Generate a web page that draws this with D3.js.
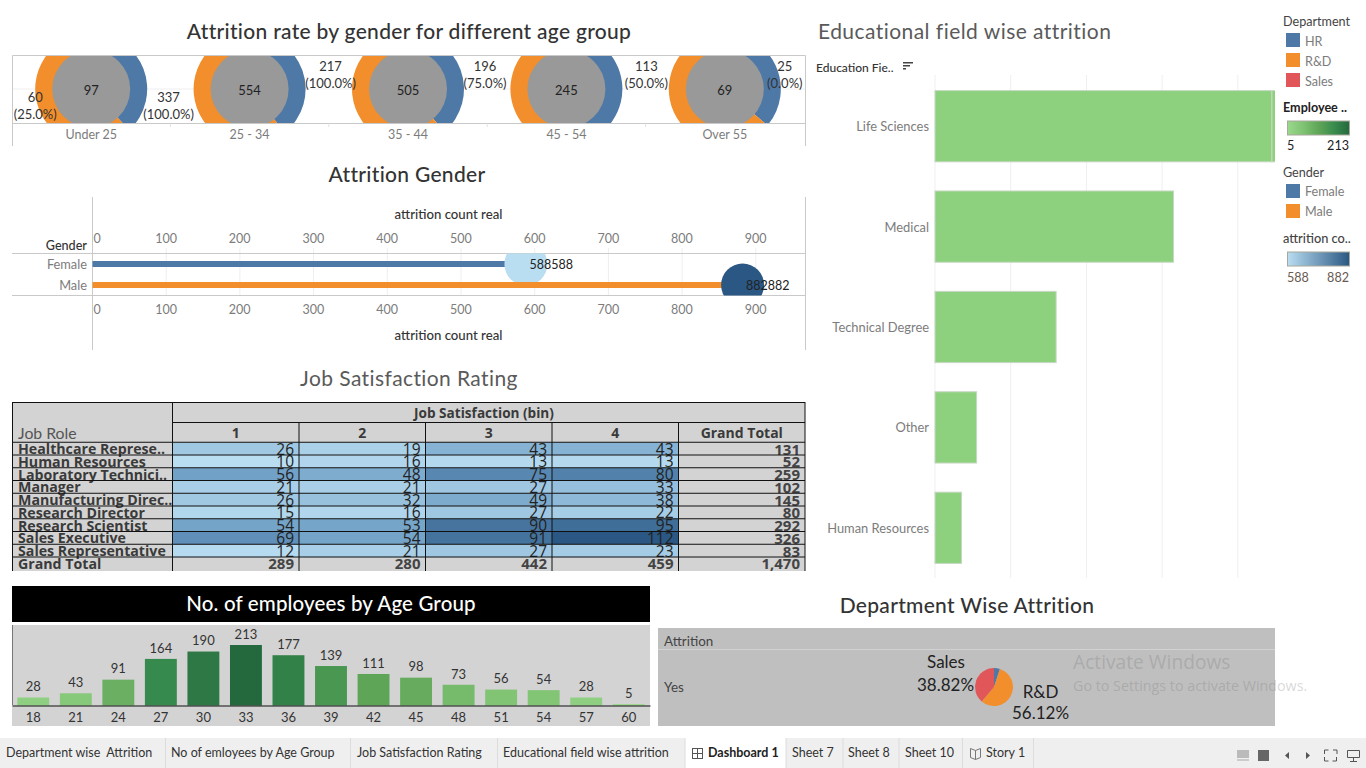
<!DOCTYPE html>
<html>
<head>
<meta charset="utf-8">
<script src="https://cdnjs.cloudflare.com/ajax/libs/d3/7.8.5/d3.min.js"></script>
<style>
html, body { margin: 0; padding: 0; background: #fff; overflow: hidden; }
svg { display: block; font-family: Lato, "Open Sans", sans-serif; }
text { white-space: pre; }
</style>
</head>
<body>
<svg id="board" width="1366" height="768"></svg>
<script>
// age group donuts
var ageGroups = ["Under 25", "25 - 34", "35 - 44", "45 - 54", "Over 55"];
var ageFemale = [37, 217, 196, 113, 25];
var ageMale = [60, 337, 309, 132, 44];
var ageTotals = [97, 554, 505, 245, 69];
var donutLabels = [["60", "(25.0%)"], ["337", "(100.0%)"], ["217", "(100.0%)"], ["196", "(75.0%)"], ["113", "(50.0%)"], ["25", "(0.0%)"]];
var donutLabelGroup = [0, 1, 1, 2, 3, 4];
var donutLabelDx = [-56, -81, 81, 77, 80, 60];
var donutLabelDy = [8, 8, -23, -23, -23, -23];

// attrition gender
var genders = ["Female", "Male"];
var genderCounts = [588, 882];
var genderTicks = [0, 100, 200, 300, 400, 500, 600, 700, 800, 900];

// job satisfaction table
var jobRoles = ["Healthcare Represe..", "Human Resources", "Laboratory Technici..", "Manager", "Manufacturing Direc..", "Research Director", "Research Scientist", "Sales Executive", "Sales Representative"];
var satBins = ["1", "2", "3", "4"];
var sat1 = [26, 10, 56, 21, 26, 15, 54, 69, 12];
var sat2 = [19, 16, 48, 21, 32, 16, 53, 54, 21];
var sat3 = [43, 13, 75, 27, 49, 27, 90, 91, 27];
var sat4 = [43, 13, 80, 33, 38, 22, 95, 112, 23];
var roleTotals = ["131", "52", "259", "102", "145", "80", "292", "326", "83"];
var binTotals = ["289", "280", "442", "459", "1,470"];

// employees by age
var ages = [18, 21, 24, 27, 30, 33, 36, 39, 42, 45, 48, 51, 54, 57, 60];
var employees = [28, 43, 91, 164, 190, 213, 177, 139, 111, 98, 73, 56, 54, 28, 5];

// department pie
var departments = ["HR", "R&D", "Sales"];
var deptShare = [5.06, 56.12, 38.82];

// education field
var eduFields = ["Life Sciences", "Medical", "Technical Degree", "Other", "Human Resources"];
var eduFirst = [89, 63, 32, 11, 7];
var eduSecond = [1, 0, 0, 0, 0];
var eduTicks = [0, 20, 40, 60, 80];

// tab strip
var tabNames = ["Department wise  Attrition", "No of emloyees by Age Group", "Job Satisfaction Rating", "Educational field wise attrition", "Dashboard 1", "Sheet 7", "Sheet 8", "Sheet 10", "Story 1"];
var tabEdges = [0, 165.5, 350.5, 497.5, 685, 786, 843, 899, 962.5, 1033.5];
var tabTextX = [6, 171, 357, 503, 708, 792, 848, 905, 986];

var BLUE = "#4e79a7", ORANGE = "#f28e2b", RED = "#e15759", BORDER = "#c9c9c9", GRID = "#efefef";
var AXIS_TEXT = "#7c7c7c", DARK = "#333";

var svg = d3.select("#board");
var defs = svg.append("defs");

function clip(id, x, y, w, h) {
  defs.append("clipPath").attr("id", id).append("rect")
    .attr("x", x).attr("y", y).attr("width", w).attr("height", h);
}
function label(g, x, y, str, size, fill, anchor, weight) {
  // big Lato text sits a touch low on a central baseline
  var nudge = size < 15 ? 0 : -0.7;
  return g.append("text").attr("x", x).attr("y", y + nudge).text(str)
    .attr("font-size", size).attr("fill", fill || DARK)
    .attr("text-anchor", anchor || "start")
    .attr("font-weight", weight || 400)
    .attr("dominant-baseline", "central");
}
function line(g, x1, y1, x2, y2, col, w) {
  return g.append("line").attr("x1", x1).attr("y1", y1).attr("x2", x2).attr("y2", y2)
    .attr("stroke", col).attr("stroke-width", w || 1);
}

/* ---------- donuts ---------- */
var top1 = svg.append("g");
label(top1, 409, 31.5, "Attrition rate by gender for different age group", 21, "#333", "middle", 500).attr("letter-spacing", 0.3);
clip("donutClip", 12.5, 55.5, 793, 68);
var xAge = d3.scaleBand().domain(ageGroups).range([12, 804]);
line(top1, 12.5, 89, 805.5, 89, GRID);
var pieGender = d3.pie().sort(null);
var arcGender = d3.arc().innerRadius(0).outerRadius(56);
var donuts = top1.append("g").attr("clip-path", "url(#donutClip)");
ageGroups.forEach(function(name, i) {
  var cx = xAge(name) + xAge.bandwidth() / 2;
  var g = donuts.append("g").attr("transform", "translate(" + cx + ",89)");
  g.selectAll("path").data(pieGender([ageFemale[i], ageMale[i]])).enter().append("path")
    .attr("d", arcGender).attr("fill", function(d, j) { return j == 0 ? BLUE : ORANGE; });
  g.append("circle").attr("r", 39).attr("fill", "#999");
  label(top1, cx, 89.5, String(ageTotals[i]), 13, "#222", "middle");
  label(top1, cx, 134.5, name, 12.5, AXIS_TEXT, "middle");
});
donutLabels.forEach(function(lines, i) {
  var name = ageGroups[donutLabelGroup[i]];
  var cx = xAge(name) + xAge.bandwidth() / 2 + donutLabelDx[i];
  var cy = 89 + donutLabelDy[i];
  label(top1, cx, cy, lines[0], 13, "#333", "middle");
  label(top1, cx, cy + 17, lines[1], 13, "#333", "middle");
});
line(top1, 12.5, 55.5, 805.5, 55.5, BORDER);
line(top1, 12.5, 123.5, 805.5, 123.5, BORDER);
line(top1, 12.5, 55.5, 12.5, 146, BORDER);
line(top1, 805.5, 55.5, 805.5, 146, BORDER);
d3.range(1, 5).forEach(function(i) {
  var x = xAge(ageGroups[i]);
  line(top1, x, 123.5, x, 127, "#e4e4e4");
});

/* ---------- attrition gender ---------- */
var gen = svg.append("g");
label(gen, 407, 174.5, "Attrition Gender", 21, "#333", "middle", 500).attr("letter-spacing", 0.3);
var xGen = d3.scaleLinear().domain([0, 966]).range([92.5, 804.5]);
var yGen = d3.scaleBand().domain(genders).range([253.5, 295.5]);
var colGen = d3.scaleLinear().domain([588, 882]).range(["#b9ddf1", "#2a5783"]);
clip("genClip", 93, 253.5, 712, 42);

genderTicks.slice(1).forEach(function(t) {
  line(gen, xGen(t), 248, xGen(t), 295, GRID);
});
[[d3.axisTop, 243], [d3.axisBottom, 305]].forEach(function(a) {
  var ax = gen.append("g").attr("transform", "translate(0," + a[1] + ")")
    .call(a[0](xGen).tickValues(genderTicks).tickSize(0).tickPadding(0));
  ax.select(".domain").remove();
  ax.selectAll("text").attr("font-size", 12.5).attr("fill", AXIS_TEXT).attr("font-family", "Lato").attr("dx", -0.7);
  ax.select(".tick text").attr("dx", 4);
});
line(gen, 92.5, 197, 92.5, 350, BORDER);
line(gen, 805.5, 197, 805.5, 350, BORDER);
line(gen, 12, 253.5, 805.5, 253.5, BORDER);
line(gen, 12, 295.5, 805.5, 295.5, BORDER);
label(gen, 448.5, 214, "attrition count real", 13.2, DARK, "middle", 500);
label(gen, 448.5, 335, "attrition count real", 13.2, DARK, "middle", 500);
label(gen, 87, 245, "Gender", 12.6, DARK, "end", 500);

var genMarks = gen.append("g");
genders.forEach(function(name, i) {
  var cy = yGen(name) + yGen.bandwidth() / 2;
  label(gen, 87, cy, name, 12.8, AXIS_TEXT, "end");
  genMarks.append("rect").attr("x", xGen(0)).attr("y", cy - 3)
    .attr("width", xGen(genderCounts[i]) - xGen(0)).attr("height", 6)
    .attr("fill", i == 0 ? BLUE : ORANGE);
  genMarks.append("circle").attr("clip-path", "url(#genClip)")
    .attr("cx", xGen(genderCounts[i])).attr("cy", cy).attr("r", 21.5)
    .attr("fill", colGen(genderCounts[i]));
  label(gen, xGen(genderCounts[i]) + 3.5, cy, "" + genderCounts[i] + genderCounts[i], 12.5, "#222");
});

/* ---------- job satisfaction ---------- */
var tbl = svg.append("g");
label(tbl, 409, 378, "Job Satisfaction Rating", 21, "#5a5a5a", "middle").attr("letter-spacing", 0.4);
var colKeys = satBins.concat(["Grand Total"]);
var rowKeys = jobRoles.concat(["Grand Total"]);
var xCol = d3.scaleBand().domain(colKeys).range([172.5, 805]);
var yRow = d3.scaleBand().domain(rowKeys).range([442.5, 570]);
var colSat = d3.scaleLinear().domain([10, 61, 112]).range(["#b9ddf1", "#6a9bc3", "#2a5783"]);
var satCols = [sat1, sat2, sat3, sat4];

tbl.append("rect").attr("x", 12).attr("y", 402).attr("width", 793).attr("height", 169).attr("fill", "#d3d3d3");
satCols.forEach(function(vals, c) {
  tbl.selectAll(null).data(vals).enter().append("rect")
    .attr("x", xCol(satBins[c]))
    .attr("y", function(d, i) { return yRow(jobRoles[i]); })
    .attr("width", xCol.bandwidth())
    .attr("height", yRow.bandwidth())
    .attr("fill", function(d) { return colSat(d); });
});
function cellRight(key) { return xCol(key) + xCol.bandwidth() - 5; }
var tableFont = "'Open Sans', Lato, sans-serif";
jobRoles.forEach(function(role, r) {
  var cy = yRow(role) + yRow.bandwidth() / 2 + 0.5;
  label(tbl, 18, cy - 0.7, role, 14.2, "#3a3a3a", "start", 700).attr("font-family", tableFont);
  satCols.forEach(function(vals, c) {
    label(tbl, cellRight(satBins[c]), cy, String(vals[r]), 15.5, "#222", "end").attr("font-family", tableFont);
  });
  label(tbl, cellRight("Grand Total"), cy, roleTotals[r], 15, "#444", "end", 700).attr("font-family", tableFont);
});
var gy = yRow("Grand Total") + yRow.bandwidth() / 2 + 0.5;
label(tbl, 18, gy - 0.7, "Grand Total", 14.2, "#3a3a3a", "start", 700).attr("font-family", tableFont);
colKeys.forEach(function(key, c) {
  label(tbl, cellRight(key), gy, binTotals[c], 15, "#444", "end", 700).attr("font-family", tableFont);
});
// grid lines sit on top of the numbers, same as the dashboard
line(tbl, 12, 402.5, 805, 402.5, "#111");
line(tbl, 172.5, 422.5, 805, 422.5, "#111");
rowKeys.forEach(function(key) {
  line(tbl, 12, yRow(key) - 0.25, 805, yRow(key) - 0.25, "#111", key == jobRoles[0] ? 0 : 1);
});
line(tbl, 12.5, 402, 12.5, 571, "#111");
line(tbl, 172.5, 402, 172.5, 571, "#111");
line(tbl, 805, 402, 805, 571, "#111");
colKeys.forEach(function(key, i) {
  if (i > 0) line(tbl, xCol(key), 422, xCol(key), 571, "#111");
  label(tbl, xCol(key) + xCol.bandwidth() / 2, 432.3, key, 14, "#3a3a3a", "middle", 700).attr("font-family", tableFont);
});
label(tbl, 18, 433.5, "Job Role", 15.8, "#555");
label(tbl, 484, 412.3, "Job Satisfaction (bin)", 13.6, "#3a3a3a", "middle", 700).attr("font-family", tableFont);

/* ---------- employees by age ---------- */
var emp = svg.append("g");
emp.append("rect").attr("x", 12).attr("y", 586).attr("width", 638).attr("height", 36).attr("fill", "#000");
label(emp, 331, 603.5, "No. of employees by Age Group", 20.5, "#fff", "middle", 500).attr("letter-spacing", 0.15);
emp.append("rect").attr("x", 12).attr("y", 625).attr("width", 638).attr("height", 101).attr("fill", "#d3d3d3");
var xEmp = d3.scaleBand().domain(ages).range([12, 650]).paddingInner(0.25).paddingOuter(0.125);
var yEmp = d3.scaleLinear().domain([0, 213]).range([705.5, 645]);
var colEmp = d3.scaleLinear().domain([5, 56, 111, 164, 213])
  .range(["#9bd88c", "#80c474", "#5fa557", "#378a4d", "#24693d"]);
emp.selectAll("rect.bar").data(employees).enter().append("rect").attr("class", "bar")
  .attr("x", function(d, i) { return xEmp(ages[i]); })
  .attr("y", function(d) { return yEmp(d); })
  .attr("width", xEmp.bandwidth())
  .attr("height", function(d) { return yEmp(0) - yEmp(d); })
  .attr("fill", function(d) { return colEmp(d); });
employees.forEach(function(d, i) {
  label(emp, xEmp(ages[i]) + xEmp.bandwidth() / 2, yEmp(d) - 11.2, String(d), 13, "#333", "middle");
});
var empAxis = emp.append("g").attr("transform", "translate(0,705.5)")
  .call(d3.axisBottom(xEmp).tickSize(0).tickPadding(7));
empAxis.select(".domain").attr("stroke", "#111");
empAxis.selectAll("text").attr("font-size", 13).attr("fill", "#333").attr("font-family", "Lato");
line(emp, 12.5, 625, 12.5, 705, "#777");

/* ---------- department pie ---------- */
var dep = svg.append("g");
label(dep, 967, 605.5, "Department Wise Attrition", 21, "#333", "middle", 500).attr("letter-spacing", 0.3);
dep.append("rect").attr("x", 658).attr("y", 628).attr("width", 617).attr("height", 98).attr("fill", "#bfbfbf");
line(dep, 658, 649.5, 1275, 649.5, "#d2d2d2");
label(dep, 664, 641, "Attrition", 13.4, "#444");
label(dep, 664, 687, "Yes", 13.4, "#444");
var pieDept = d3.pie().sort(null);
var arcDept = d3.arc().innerRadius(0).outerRadius(19);
var colDept = d3.scaleOrdinal().domain(departments).range([BLUE, ORANGE, RED]);
dep.append("g").attr("transform", "translate(994,687)")
  .selectAll("path").data(pieDept(deptShare)).enter().append("path")
  .attr("d", arcDept).attr("fill", function(d, i) { return colDept(departments[i]); });
label(dep, 946, 662.5, departments[2], 17, "#222", "middle");
label(dep, 945.5, 685, deptShare[2].toFixed(2) + "%", 17, "#222", "middle");
label(dep, 1040.5, 692.5, departments[1], 17, "#222", "middle");
label(dep, 1040.5, 713.5, deptShare[1].toFixed(2) + "%", 17, "#222", "middle");

/* ---------- education ---------- */
var edu = svg.append("g");
label(edu, 818, 31.5, "Educational field wise attrition", 21, "#5a5a5a").attr("letter-spacing", 0.45);
label(edu, 816, 67, "Education Fie..", 12, DARK, "start", 500);
// sort icon
[10, 7, 3].forEach(function(w, i) {
  edu.append("rect").attr("x", 903).attr("y", 62 + i * 3).attr("width", w).attr("height", 1.5).attr("fill", "#444");
});
var xEdu = d3.scaleLinear().domain([0, 90]).range([935, 1275.7]);
var yEdu = d3.scaleBand().domain(eduFields).range([76, 578]).paddingInner(0.29).paddingOuter(0.145);
clip("eduClip", 934, 75, 341, 503);
eduTicks.forEach(function(t) { line(edu, xEdu(t), 75, xEdu(t), 578, GRID); });
var eduBars = edu.append("g").attr("clip-path", "url(#eduClip)");
eduFields.forEach(function(f, i) {
  var y = yEdu(f), h = yEdu.bandwidth();
  eduBars.append("rect").attr("x", xEdu(0)).attr("y", y)
    .attr("width", xEdu(eduFirst[i]) - xEdu(0)).attr("height", h)
    .attr("fill", "#8dd17e").attr("stroke", "#c8d8c4").attr("stroke-width", 1);
  if (eduSecond[i] > 0) {
    eduBars.append("rect").attr("x", xEdu(eduFirst[i])).attr("y", y)
      .attr("width", xEdu(eduSecond[i]) - xEdu(0)).attr("height", h)
      .attr("fill", "#8dd17e").attr("stroke", "#c8d8c4").attr("stroke-width", 1);
  }
  label(edu, 929, y + h / 2, f, 12.9, AXIS_TEXT, "end");
});

/* ---------- legends ---------- */
var leg = svg.append("g");
label(leg, 1283, 21, "Department", 12.6, "#444");
departments.forEach(function(d, i) {
  leg.append("rect").attr("x", 1286).attr("y", 33 + i * 20).attr("width", 14).attr("height", 14).attr("fill", colDept(d));
  label(leg, 1305, 41 + i * 20, d, 12.6, AXIS_TEXT);
});
label(leg, 1283, 107, "Employee ..", 12.6, "#222", "start", 700);
function ramp(id, y, scale, domain) {
  var lg = defs.append("linearGradient").attr("id", id);
  d3.range(0, 1.01, 0.25).forEach(function(t) {
    lg.append("stop").attr("offset", t).attr("stop-color", scale(domain[0] + t * (domain[1] - domain[0])));
  });
  leg.append("rect").attr("x", 1287.5).attr("y", y).attr("width", 62).attr("height", 14)
    .attr("fill", "url(#" + id + ")").attr("stroke", "#a8a89c");
}
ramp("rampEmp", 121, colEmp, [5, 213]);
label(leg, 1287, 145, "5", 12.6, "#222");
label(leg, 1349, 145, "213", 12.6, "#222", "end");
label(leg, 1283, 172, "Gender", 12.6, "#444");
genders.forEach(function(d, i) {
  leg.append("rect").attr("x", 1286).attr("y", 184 + i * 20).attr("width", 14).attr("height", 14).attr("fill", i == 0 ? BLUE : ORANGE);
  label(leg, 1305, 191.5 + i * 20, d, 12.6, AXIS_TEXT);
});
label(leg, 1283, 238, "attrition co..", 12.8, "#444", "start", 500);
ramp("rampGen", 252, colGen, [588, 882]);
label(leg, 1287, 277, String(genderCounts[0]), 12.6, "#6a5a50");
label(leg, 1349, 277, String(genderCounts[1]), 12.6, "#6a5a50", "end");

/* ---------- tab strip ---------- */
var tabs = svg.append("g");
tabs.append("rect").attr("x", 0).attr("y", 738).attr("width", 1366).attr("height", 30).attr("fill", "#efefef");
tabs.append("rect").attr("x", tabEdges[4]).attr("y", 738).attr("width", tabEdges[5] - tabEdges[4]).attr("height", 30).attr("fill", "#fff");
tabEdges.slice(1).forEach(function(x) { line(tabs, x, 738, x, 768, "#dcdcdc"); });
tabNames.forEach(function(t, i) {
  label(tabs, tabTextX[i], 752.4, t, 12.5, i == 4 ? "#222" : "#333", "start", i == 4 ? 700 : 400);
});
// dashboard icon
tabs.append("rect").attr("x", 692.5).attr("y", 748.5).attr("width", 10).attr("height", 10).attr("fill", "none").attr("stroke", "#555");
line(tabs, 697.5, 748.5, 697.5, 758.5, "#555");
line(tabs, 692.5, 753.5, 702.5, 753.5, "#555");
// story icon
tabs.append("path").attr("d", "M970.5 748.5 l5 2 l5 -2 v9 l-5 2 l-5 -2 z M975.5 750.5 v9").attr("fill", "none").attr("stroke", "#777");
// right hand controls
tabs.append("rect").attr("x", 1237).attr("y", 750).attr("width", 12).attr("height", 8).attr("fill", "#bbb");
tabs.append("rect").attr("x", 1237).attr("y", 759).attr("width", 12).attr("height", 2).attr("fill", "#ccc");
tabs.append("rect").attr("x", 1258).attr("y", 750).attr("width", 11).attr("height", 11).attr("fill", "#666");
tabs.append("path").attr("d", "M1289 752 l-4 3.5 l4 3.5 z M1306 752 l4 3.5 l-4 3.5 z").attr("fill", "#555");
tabs.append("path").attr("d", "M1324.5 754 v-4 h4 M1333 750 h4 v4 M1336.500 757 v4 h-4 M1328.500 761 h-4 v-4").attr("fill", "none").attr("stroke", "#555");
tabs.append("path").attr("d", "M1347.500 750.500 h12 v7 h-12 z M1353.500 757.500 v4 M1350 761.500 h7").attr("fill", "none").attr("stroke", "#555");

/* ---------- windows watermark ---------- */
var wm = svg.append("g");
label(wm, 1073, 662, "Activate Windows", 19.2, "rgba(120,120,120,0.3)", "start").attr("font-family", "Open Sans");
label(wm, 1073, 685, "Go to Settings to activate Windows.", 14.3, "rgba(120,120,120,0.3)", "start").attr("font-family", "Open Sans");
</script>
</body>
</html>
